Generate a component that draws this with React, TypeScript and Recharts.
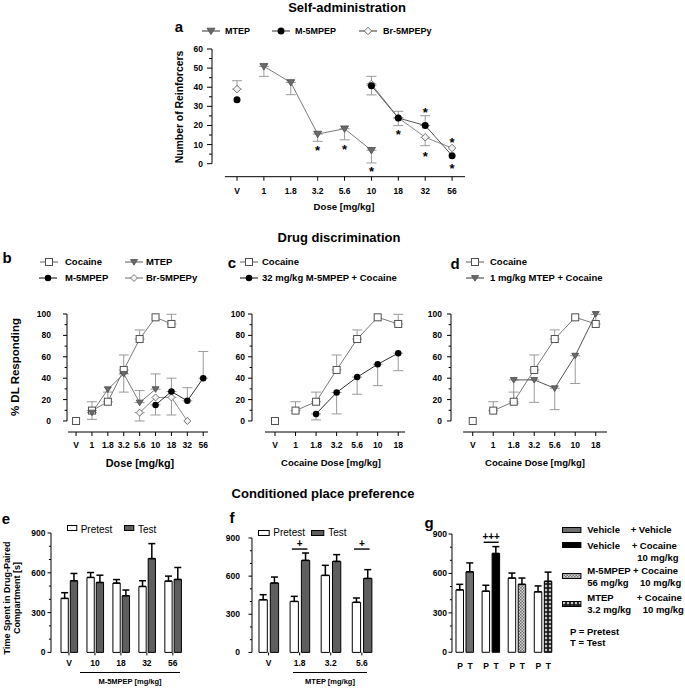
import React from "react";
import { Bar, Cell, ComposedChart, ErrorBar, Line, ReferenceLine, Scatter, XAxis, YAxis } from "recharts";

const FONT = "'Liberation Sans', Arial, Helvetica, sans-serif";

// a: self-administration
const saDoses = ["V", "1", "1.8", "3.2", "5.6", "10", "18", "32", "56"];
const saMtep = [null, 50.9, 42.5, 15.5, 18.3, 7.0, null, null, null];
const saMtepErr = [null, [5.2, 0], [6.4, 0], [3.8, 0], [5.8, 0], [6.6, 0], null, null, null];
const saM5 = [33.5, null, null, null, null, 40.8, 23.9, 20.0, 4.2];
const saM5Err = [null, null, null, null, null, [4.8, 0], [4.0, 0], [0, 5.1], null];
const saBr = [39.0, null, null, null, null, 41.7, 24.0, 13.8, 8.2];
const saBrErr = [[0, 4.4], null, null, null, null, [0, 4.0], [0, 3.4], [4.4, 0], null];
const saStars = [
  { i: 3, v: 8.2 }, { i: 4, v: 9.0 }, { i: 5, v: -2.6 }, { i: 6, v: 16.9 },
  { i: 7, v: 28.2 }, { i: 7, v: 5.2 }, { i: 8, v: 12.5 }, { i: 8, v: -1.0 },
];
const saTicks = [0, 5, 10, 15, 20, 25, 30, 35, 40, 45, 50, 55, 60];

// b-d: drug discrimination
const ddDoses = ["V", "1", "1.8", "3.2", "5.6", "10", "18", "32", "56"];
const cocDoses = ["V", "1", "1.8", "3.2", "5.6", "10", "18"];
const cocVehicle = [0];
const cocaine = [null, 9.7, 18.0, 47.7, 76.6, 96.9, 90.7];
const cocaineErr = [null, [0, 8.3], [0, 9.0], [0, 14.0], [0, 8.5], null, [0, 9.0]];
const ddMtep = [null, 7.8, 29.6, 44.0, 17.2, 29.7, null, null, null];
const ddMtepErr = [null, [6.3, 0], null, [17.0, 0], [0, 11.2], [0, 14.3], null, null, null];
const ddM5 = [null, null, null, null, null, 15.0, 27.5, 18.8, 40.0];
const ddM5Err = [null, null, null, null, null, [9.4, 0], [0, 12.5], [0, 12.3], [0, 25.0]];
const ddBr = [null, null, null, null, 7.8, 22.0, 22.0, 0, null];
const ddBrErr = [null, null, null, null, [7.8, 0], null, [16.4, 0], null, null];
const m5Coc = [null, null, 6.6, 26.6, 41.0, 53.0, 63.4];
const m5CocErr = [null, null, [5.6, 0], [20.0, 0], [16.0, 0], [20.0, 0], [16.4, 0]];
const mtepCoc = [null, null, 38.4, 38.4, 30.6, 61.0, 100];
const mtepCocErr = [null, null, [22.0, 0], [21.0, 0], [20.0, 0], [26.0, 0], null];
const ddTicks = [0, 10, 20, 30, 40, 50, 60, 70, 80, 90, 100];

// e-g: conditioned place preference
const cppTicks = [0, 100, 200, 300, 400, 500, 600, 700, 800, 900];
const eDoses = ["V", "10", "18", "32", "56"];
const ePre = [407, 565, 522, 497, 537];
const ePreErr = [43, 37, 27, 43, 38];
const eTest = [540, 527, 427, 707, 550];
const eTestErr = [55, 55, 43, 113, 90];
const fDoses = ["V", "1.8", "3.2", "5.6"];
const fPre = [414, 401, 606, 394];
const fPreErr = [40, 40, 79, 34];
const fTest = [546, 724, 716, 582];
const fTestErr = [47, 58, 53, 69];
const fSig = [null, 813, null, 813];
const gGroups = ["veh+veh", "veh+coc", "m5+coc", "mtep+coc"];
const gPre = [475, 465, 565, 460];
const gPreErr = [42, 45, 38, 45];
const gTest = [612, 752, 517, 540];
const gTestErr = [68, 52, 48, 70];
const gSig = [null, 837, null, null];
const gTestFill = ["#6e6e6e", "#000", "url(#patLight)", "url(#patDark)"];

const saRows = saDoses.map((d, i) => ({
  i, mtep: saMtep[i], mtepErr: saMtepErr[i], m5: saM5[i], m5Err: saM5Err[i], br: saBr[i], brErr: saBrErr[i],
}));
const bRows = ddDoses.map((d, i) => ({
  i, veh: cocVehicle[i] ?? null, coc: cocaine[i] ?? null, cocErr: cocaineErr[i] ?? null,
  mtep: ddMtep[i], mtepErr: ddMtepErr[i], m5: ddM5[i], m5Err: ddM5Err[i], br: ddBr[i], brErr: ddBrErr[i],
}));
const cRows = cocDoses.map((d, i) => ({
  i, veh: cocVehicle[i] ?? null, coc: cocaine[i], cocErr: cocaineErr[i], m5: m5Coc[i], m5Err: m5CocErr[i],
}));
const dRows = cocDoses.map((d, i) => ({
  i, veh: cocVehicle[i] ?? null, coc: cocaine[i], cocErr: cocaineErr[i], mtep: mtepCoc[i], mtepErr: mtepCocErr[i],
}));
const eRows = eDoses.map((g, i) => ({ g, pre: ePre[i], preErr: [0, ePreErr[i]], test: eTest[i], testErr: [0, eTestErr[i]] }));
const fRows = fDoses.map((g, i) => ({ g, pre: fPre[i], preErr: [0, fPreErr[i]], test: fTest[i], testErr: [0, fTestErr[i]], sig: fSig[i] }));
const gRows = gGroups.map((g, i) => ({ g, pre: gPre[i], preErr: [0, gPreErr[i]], test: gTest[i], testErr: [0, gTestErr[i]], sig: gSig[i] }));

function box(plot: number[]) {
  const [x0, y0, x1, y1] = plot;
  return {
    style: { position: "absolute" as const, left: x0 - 40, top: y0 - 10 },
    width: x1 - x0 + 50,
    height: y1 - y0 + 45,
    margin: { top: 10, right: 10, bottom: 0, left: 0 },
  };
}

function Marker({ cx, cy, kind, size }: any) {
  const r = size / 2;
  if (kind === "tri")
    return <path d={`M${cx - r},${cy - r * 0.7} L${cx + r},${cy - r * 0.7} L${cx},${cy + r * 0.9} Z`} fill="#6a6a6a" stroke="#4a4a4a" strokeWidth={0.8} />;
  if (kind === "circle") return <circle cx={cx} cy={cy} r={r} fill="#000" />;
  if (kind === "square")
    return <rect x={cx - r} y={cy - r} width={size} height={size} fill="#fff" stroke="#505050" strokeWidth={1} />;
  return <path d={`M${cx},${cy - r} L${cx + r},${cy} L${cx},${cy + r} L${cx - r},${cy} Z`} fill="#f2f2f2" stroke="#777" strokeWidth={1} />;
}

const dot = (kind: string, size: number) => (p: any) => {
  if (p.value == null || p.cx == null || p.cy == null || Number.isNaN(p.cy)) return <g key={`n${p.index}`} />;
  return <Marker key={`m${p.index}`} cx={p.cx} cy={p.cy} kind={kind} size={size} />;
};

const sigDot = (mark: string, half: number) => (p: any) => {
  if (p.value == null || p.cy == null || Number.isNaN(p.cy)) return <g key={`s${p.index}`} />;
  return (
    <g key={`s${p.index}`}>
      <line x1={p.cx - half} x2={p.cx + half} y1={p.cy} y2={p.cy} stroke="#000" strokeWidth={1.4} />
      <text x={p.cx} y={p.cy - 5.5} textAnchor="middle" dominantBaseline="central" fontFamily={FONT} fontSize={10} fontWeight={700}>
        {mark}
      </text>
    </g>
  );
};

const starShape = (p: any) => (
  <text x={p.cx} y={p.cy} dy="0.55em" textAnchor="middle" fontFamily={FONT} fontSize={13} fontWeight={700} fill="#000">
    *
  </text>
);

function YTick({ x, y, payload, major, len = 4, gap = 3, fs = 8.5 }: any) {
  const v = payload.value;
  const isMajor = Math.abs(v / major - Math.round(v / major)) < 1e-6;
  return (
    <g>
      <line x1={x - (isMajor ? len : len * 0.6)} x2={x} y1={y} y2={y} stroke="#000" strokeWidth={1} />
      {isMajor && (
        <text x={x - len - gap} y={y} textAnchor="end" dominantBaseline="central" fontFamily={FONT} fontSize={fs} fontWeight={700} fill="#000">
          {v}
        </text>
      )}
    </g>
  );
}

function XTick({ x, y, payload, labels, len = 4, off = 13, fs = 8.5, pair }: any) {
  const label = labels ? labels[payload.value] : payload.value;
  const txt = (tx: number, s: string) => (
    <text x={tx} y={y + off} textAnchor="middle" dominantBaseline="central" fontFamily={FONT} fontSize={fs} fontWeight={700} fill="#000">
      {s}
    </text>
  );
  return (
    <g>
      {len > 0 && <line x1={x} x2={x} y1={y} y2={y + len} stroke="#000" strokeWidth={1} />}
      {pair ? (
        <>
          {txt(x - pair, "P")}
          {txt(x + pair, "T")}
        </>
      ) : (
        txt(x, label)
      )}
    </g>
  );
}

function doseAxes(o: any) {
  return [
    <XAxis key="x" type="number" dataKey="i" domain={o.xDom} ticks={o.labels.map((_: string, i: number) => i)} interval={0} height={35}
      axisLine={false} tickLine={false} tickSize={0} tickMargin={0} tick={<XTick labels={o.labels} off={o.xOff} />} />,
    <YAxis key="y" type="number" domain={o.yDom} ticks={o.ticks} interval={0} width={40} axisLine={false} tickLine={false}
      tickSize={0} tickMargin={0} tick={<YTick major={o.major} len={o.len} gap={o.gap} />} />,
    <ReferenceLine key="ya" segment={[{ x: o.xDom[0], y: 0 }, { x: o.xDom[0], y: o.ticks[o.ticks.length - 1] }]} stroke="#000" strokeWidth={1} ifOverflow="visible" />,
    <ReferenceLine key="xa" segment={[{ x: o.xLine, y: o.yDom[0] }, { x: o.xDom[1], y: o.yDom[0] }]} stroke="#000" strokeWidth={1} ifOverflow="visible" />,
  ];
}

function series(key: string, kind: string, size: number, stroke: string, errKey?: string) {
  return (
    <Line key={key} dataKey={key} type="linear" stroke={stroke} strokeWidth={1} connectNulls={false} isAnimationActive={false}
      dot={dot(kind, size)} activeDot={false} legendType="none">
      {errKey && <ErrorBar dataKey={errKey} width={5} stroke="#9a9a9a" strokeWidth={1} direction="y" />}
    </Line>
  );
}

function T({ x, y, s, w = 700, a = "start", r = false, children }: any) {
  const tx = a === "middle" ? "-50%" : a === "end" ? "-100%" : "0";
  return (
    <div style={{
      position: "absolute", left: x, top: y, fontFamily: FONT, fontSize: s, fontWeight: w, lineHeight: 1, whiteSpace: "nowrap", color: "#000",
      transform: r ? "translate(-50%,-50%) rotate(-90deg)" : `translate(${tx},-50%)`,
    }}>
      {children}
    </div>
  );
}

function LegendMark({ x, y, kind, size, stroke, w = 18 }: any) {
  return (
    <svg style={{ position: "absolute", left: x - w / 2, top: y - 6 }} width={w} height={12}>
      <line x1={0} x2={w} y1={6} y2={6} stroke={stroke} strokeWidth={1.2} />
      <Marker cx={w / 2} cy={6} kind={kind} size={size} />
    </svg>
  );
}

function Swatch({ x, y, w, h, fill }: any) {
  return (
    <svg style={{ position: "absolute", left: x - w / 2 - 1, top: y - h / 2 - 1 }} width={w + 2} height={h + 2}>
      <rect x={0.5} y={0.5} width={w} height={h} fill={fill} stroke="#000" strokeWidth={1} />
    </svg>
  );
}

const A = box([212, 49.3, 465, 177]);
const B = box([67, 314, 208, 432]);
const C = box([252, 314, 405, 432]);
const D = box([451, 314, 607, 432]);
const E = box([50.7, 533.3, 185.5, 652.7]);
const F = box([251.7, 538.3, 377.1, 652.7]);
const G = box([451.7, 534, 556.1, 652.3]);

export default function App() {
  return (
    <div style={{ position: "absolute", left: 0, top: 0, width: 685, height: 690, background: "#fff", overflow: "hidden" }}>
      <svg width={0} height={0} style={{ position: "absolute" }}>
        <defs>
          <pattern id="patLight" width={3} height={3} patternUnits="userSpaceOnUse">
            <rect width={3} height={3} fill="#d4d4d4" />
            <rect width={1.5} height={1.5} fill="#707070" />
            <rect x={1.5} y={1.5} width={1.5} height={1.5} fill="#707070" />
          </pattern>
          <pattern id="patDark" width={4} height={4} patternUnits="userSpaceOnUse">
            <rect width={4} height={4} fill="#1c1c1c" />
            <path d="M2,0.6 L3.4,2 L2,3.4 L0.6,2 Z" fill="#e6e6e6" />
          </pattern>
        </defs>
      </svg>

      {/* titles and panel letters */}
      <T x={347} y={7} s={13} a="middle">Self-administration</T>
      <T x={339} y={237} s={13} a="middle">Drug discrimination</T>
      <T x={323} y={493} s={13} a="middle">Conditioned place preference</T>
      <T x={179} y={26} s={15} a="middle">a</T>
      <T x={7} y={257} s={15} a="middle">b</T>
      <T x={232} y={262} s={15} a="middle">c</T>
      <T x={455} y={263} s={15} a="middle">d</T>
      <T x={6} y={518} s={15} a="middle">e</T>
      <T x={232} y={517} s={15} a="middle">f</T>
      <T x={429} y={522} s={15} a="middle">g</T>

      {/* panel a */}
      <LegendMark x={211} y={31} kind="tri" size={8} stroke="#555" />
      <T x={225} y={31} s={9}>MTEP</T>
      <LegendMark x={281} y={31} kind="circle" size={7} stroke="#555" />
      <T x={295} y={31} s={9}>M-5MPEP</T>
      <LegendMark x={368} y={31} kind="diamond" size={7.5} stroke="#555" />
      <T x={383} y={31} s={9}>Br-5MPEPy</T>
      <div style={A.style}>
        <ComposedChart width={A.width} height={A.height} margin={A.margin} data={saRows}>
          {doseAxes({ labels: saDoses, xDom: [-0.93, 8.48], xLine: -0.45, yDom: [-6.8, 60], ticks: saTicks, major: 10, len: 5, gap: 4, xOff: 14 })}
          {series("mtep", "tri", 8, "#7a7a7a", "mtepErr")}
          {series("br", "diamond", 7.5, "#8a8a8a", "brErr")}
          {series("m5", "circle", 7, "#555", "m5Err")}
          <Scatter data={saStars} dataKey="v" isAnimationActive={false} shape={starShape} legendType="none" />
        </ComposedChart>
      </div>
      <T x={180} y={106.5} s={10.4} r>Number of Reinforcers</T>
      <T x={344} y={207} s={9.6} a="middle">Dose [mg/kg]</T>

      {/* panel b */}
      <LegendMark x={49} y={262} kind="square" size={7} stroke="#777" />
      <T x={65} y={262} s={9.5}>Cocaine</T>
      <LegendMark x={134} y={262} kind="tri" size={7} stroke="#777" />
      <T x={146} y={262} s={9.5}>MTEP</T>
      <LegendMark x={48} y={278} kind="circle" size={6.5} stroke="#333" />
      <T x={65} y={278} s={9.5}>M-5MPEP</T>
      <LegendMark x={134} y={278} kind="diamond" size={7} stroke="#888" />
      <T x={146} y={278} s={9.5}>Br-5MPEPy</T>
      <div style={B.style}>
        <ComposedChart width={B.width} height={B.height} margin={B.margin} data={bRows}>
          {doseAxes({ labels: ddDoses, xDom: [-0.57, 8.3], xLine: -0.5, yDom: [-10.3, 100], ticks: ddTicks, major: 20, len: 4, gap: 12, xOff: 13 })}
          {series("coc", "square", 7, "#7a7a7a", "cocErr")}
          {series("veh", "square", 7, "#7a7a7a")}
          {series("mtep", "tri", 7, "#7a7a7a", "mtepErr")}
          {series("br", "diamond", 7, "#8a8a8a", "brErr")}
          {series("m5", "circle", 6.5, "#333", "m5Err")}
        </ComposedChart>
      </div>
      <T x={16} y={367} s={11.5} r>% DL Responding</T>
      <T x={140} y={463} s={10.8} a="middle">Dose [mg/kg]</T>

      {/* panel c */}
      <LegendMark x={249} y={262} kind="square" size={7} stroke="#777" />
      <T x={262} y={262} s={9.5}>Cocaine</T>
      <LegendMark x={249} y={278} kind="circle" size={6.5} stroke="#333" />
      <T x={262} y={278} s={9.5}>32 mg/kg M-5MPEP + Cocaine</T>
      <div style={C.style}>
        <ComposedChart width={C.width} height={C.height} margin={C.margin} data={cRows}>
          {doseAxes({ labels: cocDoses, xDom: [-1.12, 6.33], xLine: -0.49, yDom: [-10.3, 100], ticks: ddTicks, major: 20, len: 4, gap: 3, xOff: 13 })}
          {series("coc", "square", 7, "#7a7a7a", "cocErr")}
          {series("veh", "square", 7, "#7a7a7a")}
          {series("m5", "circle", 6.5, "#333", "m5Err")}
        </ComposedChart>
      </div>
      <T x={331} y={463} s={9.5} a="middle">Cocaine Dose [mg/kg]</T>

      {/* panel d */}
      <LegendMark x={475} y={262} kind="square" size={7} stroke="#777" />
      <T x={490} y={262} s={9.5}>Cocaine</T>
      <LegendMark x={475} y={278} kind="tri" size={7} stroke="#555" />
      <T x={490} y={278} s={9.5}>1 mg/kg MTEP + Cocaine</T>
      <div style={D.style}>
        <ComposedChart width={D.width} height={D.height} margin={D.margin} data={dRows}>
          {doseAxes({ labels: cocDoses, xDom: [-1.06, 6.55], xLine: -0.47, yDom: [-10.3, 100], ticks: ddTicks, major: 20, len: 4, gap: 5, xOff: 13 })}
          {series("coc", "square", 7, "#7a7a7a", "cocErr")}
          {series("veh", "square", 7, "#7a7a7a")}
          {series("mtep", "tri", 7, "#555", "mtepErr")}
        </ComposedChart>
      </div>
      <T x={535} y={463} s={9.5} a="middle">Cocaine Dose [mg/kg]</T>

      {/* panel e */}
      <Swatch x={72.7} y={528.5} w={9.3} h={5} fill="#fff" />
      <T x={80.7} y={529.5} s={10} w={400}>Pretest</T>
      <Swatch x={129.3} y={528.5} w={9.3} h={5} fill="#5e5e5e" />
      <T x={138} y={529.5} s={10} w={400}>Test</T>
      <div style={E.style}>
        <ComposedChart width={E.width} height={E.height} margin={E.margin} data={eRows} barGap={2}>
          <XAxis dataKey="g" type="category" padding={{ left: 5, right: 0 }} height={35} axisLine={false} tickLine={false} tickSize={0}
            tickMargin={0} interval={0} tick={<XTick len={3} off={10.5} />} />
          <YAxis type="number" domain={[0, 900]} ticks={cppTicks} interval={0} width={40} axisLine={{ stroke: "#000" }} tickLine={false}
            tickSize={0} tickMargin={0} tick={<YTick major={300} len={3.5} gap={2} />} />
          <Bar dataKey="pre" barSize={7.3} fill="#fff" stroke="#000" strokeWidth={1} isAnimationActive={false}>
            <ErrorBar dataKey="preErr" width={3.5} stroke="#000" direction="y" />
          </Bar>
          <Bar dataKey="test" barSize={7.3} fill="#5e5e5e" stroke="#000" strokeWidth={1} isAnimationActive={false}>
            <ErrorBar dataKey="testErr" width={3.5} stroke="#000" direction="y" />
          </Bar>
        </ComposedChart>
      </div>
      <T x={7.3} y={598} s={9} r>Time Spent in Drug-Paired</T>
      <T x={16.7} y={598} s={9} r>Compartment [s]</T>
      <div style={{ position: "absolute", left: 80, top: 672, width: 100, borderTop: "1px solid #000" }} />
      <T x={130} y={682} s={7.5} a="middle">M-5MPEP [mg/kg]</T>

      {/* panel f */}
      <Swatch x={264.7} y={533.5} w={10.7} h={5} fill="#fff" />
      <T x={273.3} y={533} s={10} w={400}>Pretest</T>
      <Swatch x={317.8} y={533.5} w={12.3} h={5} fill="#5e5e5e" />
      <T x={328.3} y={533} s={10} w={400}>Test</T>
      <div style={F.style}>
        <ComposedChart width={F.width} height={F.height} margin={F.margin} data={fRows} barGap={3}>
          <XAxis dataKey="g" type="category" padding={{ left: 1, right: 0 }} height={35} axisLine={false} tickLine={false} tickSize={0}
            tickMargin={0} interval={0} tick={<XTick len={3} off={11} />} />
          <YAxis type="number" domain={[0, 900]} ticks={cppTicks} interval={0} width={40} axisLine={{ stroke: "#000" }} tickLine={false}
            tickSize={0} tickMargin={0} tick={<YTick major={300} len={3.5} gap={8.5} />} />
          <Bar dataKey="pre" barSize={8.3} fill="#fff" stroke="#000" strokeWidth={1} isAnimationActive={false}>
            <ErrorBar dataKey="preErr" width={3.5} stroke="#000" direction="y" />
          </Bar>
          <Bar dataKey="test" barSize={8.3} fill="#5e5e5e" stroke="#000" strokeWidth={1} isAnimationActive={false}>
            <ErrorBar dataKey="testErr" width={3.5} stroke="#000" direction="y" />
          </Bar>
          <Line dataKey="sig" stroke="none" isAnimationActive={false} dot={sigDot("+", 7.8)} activeDot={false} legendType="none" />
        </ComposedChart>
      </div>
      <div style={{ position: "absolute", left: 293, top: 672, width: 74, borderTop: "1px solid #000" }} />
      <T x={330} y={682} s={7.5} a="middle">MTEP [mg/kg]</T>

      {/* panel g */}
      <div style={G.style}>
        <ComposedChart width={G.width} height={G.height} margin={G.margin} data={gRows} barGap={2.5}>
          <XAxis dataKey="g" type="category" padding={{ left: 0, right: 0 }} height={35} axisLine={false} tickLine={false} tickSize={0}
            tickMargin={0} interval={0} tick={<XTick len={0} off={13.5} pair={5} />} />
          <YAxis type="number" domain={[0, 900]} ticks={cppTicks} interval={0} width={40} axisLine={{ stroke: "#000" }} tickLine={false}
            tickSize={0} tickMargin={0} tick={<YTick major={300} len={3.5} gap={1.5} />} />
          <Bar dataKey="pre" barSize={7.5} fill="#fff" stroke="#000" strokeWidth={1} isAnimationActive={false}>
            <ErrorBar dataKey="preErr" width={3.5} stroke="#000" direction="y" />
          </Bar>
          <Bar dataKey="test" barSize={7.5} stroke="#000" strokeWidth={1} isAnimationActive={false}>
            {gRows.map((r, i) => (
              <Cell key={r.g} fill={gTestFill[i]} />
            ))}
            <ErrorBar dataKey="testErr" width={3.5} stroke="#000" direction="y" />
          </Bar>
          <Line dataKey="sig" stroke="none" isAnimationActive={false} dot={sigDot("+++", 7.5)} activeDot={false} legendType="none" />
        </ComposedChart>
      </div>
      <Swatch x={572.5} y={530} w={18.4} h={5} fill="#6e6e6e" />
      <T x={587.3} y={530} s={9.5}>Vehicle</T>
      <T x={630.7} y={530} s={9.5}>+ Vehicle</T>
      <Swatch x={572.5} y={545.7} w={18.4} h={5} fill="#000" />
      <T x={587.3} y={545.7} s={9.5}>Vehicle</T>
      <T x={631.7} y={545.7} s={9.5}>+ Cocaine</T>
      <T x={637.3} y={558.3} s={9.5}>10 mg/kg</T>
      <Swatch x={572.5} y={576.7} w={18.4} h={5} fill="url(#patLight)" />
      <T x={587.3} y={570.7} s={9.5}>M-5MPEP</T>
      <T x={633} y={570.7} s={9.5}>+ Cocaine</T>
      <T x={587.3} y={582.7} s={9.5}>56 mg/kg</T>
      <T x={640} y={582.7} s={9.5}>10 mg/kg</T>
      <Swatch x={572.5} y={604} w={18.4} h={5} fill="url(#patDark)" />
      <T x={587.3} y={598.3} s={9.5}>MTEP</T>
      <T x={636.7} y={598.3} s={9.5}>+ Cocaine</T>
      <T x={587.3} y={610} s={9.5}>3.2 mg/kg</T>
      <T x={642.7} y={610} s={9.5}>10 mg/kg</T>
      <T x={570} y={631.7} s={9.5}>P = Pretest</T>
      <T x={570} y={643.3} s={9.5}>T = Test</T>
    </div>
  );
}
